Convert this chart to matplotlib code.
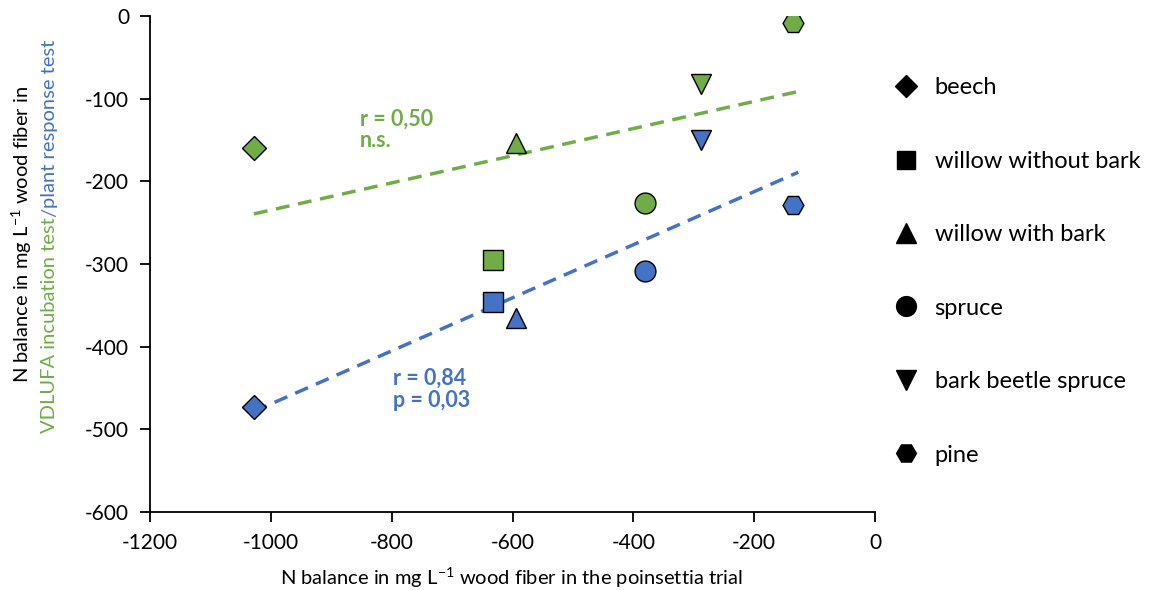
import numpy as np
import matplotlib
matplotlib.use("Agg")
import matplotlib.pyplot as plt
from matplotlib.lines import Line2D

plt.rcParams['font.family'] = ['Lato', 'DejaVu Sans']
plt.rcParams['mathtext.fontset'] = 'custom'
plt.rcParams['mathtext.rm'] = 'Lato'
plt.rcParams['mathtext.it'] = 'Lato:italic'
plt.rcParams['mathtext.bf'] = 'Lato:bold'
plt.rcParams['axes.unicode_minus'] = False

species = ["beech", "willow without bark", "willow with bark", "spruce", "bark beetle spruce", "pine"]
markers = ["D", "s", "^", "o", "v", "H"]
poinsettia = [-1028, -632, -594, -380, -288, -135]
vdlufa = [-160, -295, -154, -226, -82, -8]
plant_resp = [-473, -346, -365, -308, -150, -229]

GREEN = "#70AD47"
BLUE = "#4472C4"

fig = plt.figure(figsize=(11.69, 5.90), dpi=100)
ax = fig.add_axes([150/1169, 78/590, 725/1169, 496/590])

sizes = {"D": 12, "s": 14, "^": 15, "o": 15, "v": 15, "H": 15}
for x, g, b, m in zip(poinsettia, vdlufa, plant_resp, markers):
    ax.plot(x, g, marker=m, ms=sizes[m], mfc=GREEN, mec="black", mew=1, ls="none", zorder=3)
    ax.plot(x, b, marker=m, ms=sizes[m], mfc=BLUE, mec="black", mew=1, ls="none", zorder=3)

xs = np.array([min(poinsettia), max(poinsettia) + 8])
for ys, c in [(vdlufa, GREEN), (plant_resp, BLUE)]:
    k, d = np.polyfit(poinsettia, ys, 1)
    ax.plot(xs, k * xs + d, color=c, lw=2.5, dashes=(4, 2.5), zorder=2)

ax.text(-853, -112, "r = 0,50\nn.s.", color=GREEN, fontsize=15.5, fontweight="bold",
        va="top", ha="left", linespacing=1.05)
ax.text(-798, -426, "r = 0,84\np = 0,03", color=BLUE, fontsize=15.5, fontweight="bold",
        va="top", ha="left", linespacing=1.05)

ax.set_xlim(-1200, 0)
ax.set_ylim(-600, 0)
ax.set_xticks(np.arange(-1200, 1, 200))
ax.set_yticks(np.arange(-600, 1, 100))
for s in ["top", "right"]:
    ax.spines[s].set_visible(False)
for s in ["left", "bottom"]:
    ax.spines[s].set_linewidth(1.3)
ax.tick_params(labelsize=15, length=7, width=1.3, direction="out", pad=8)

fig.text(512/1169, 1 - 578/590, r"N balance in mg L$^{-1}$ wood fiber in the poinsettia trial",
         ha="center", va="center", fontsize=14.5)

# y label, first line
fig.text(22/1169, 1 - 234/590, r"N balance in mg L$^{-1}$ wood fiber in", rotation=90,
         ha="center", va="center", fontsize=14.5)

# y label, second line in two colours
fig.canvas.draw()
r = fig.canvas.get_renderer()
parts = [("VDLUFA incubation test", GREEN), ("/", "#5B7FC4"), ("plant response test", BLUE)]
tmp = [fig.text(0, 0, p, rotation=90, fontsize=14.5) for p, _ in parts]
heights = [t.get_window_extent(r).height for t in tmp]
for t in tmp:
    t.remove()
total = sum(heights)
y0 = (590 - 236) - total / 2
for (p, c), h in zip(parts, heights):
    fig.text(50/1169, y0/590, p, rotation=90, ha="center", va="bottom", fontsize=14.5, color=c)
    y0 += h

handles = [Line2D([], [], marker=m, ms=sizes[m] * 0.95, color="black", ls="none") for m in markers]
fig.legend(handles, species, loc="upper left", bbox_to_anchor=(885/1169, 1 - 68/590),
           frameon=False, fontsize=17, labelspacing=2.22, handletextpad=0.7, handlelength=1.0,
           borderaxespad=0)

fig.savefig("out.png", dpi=100)
